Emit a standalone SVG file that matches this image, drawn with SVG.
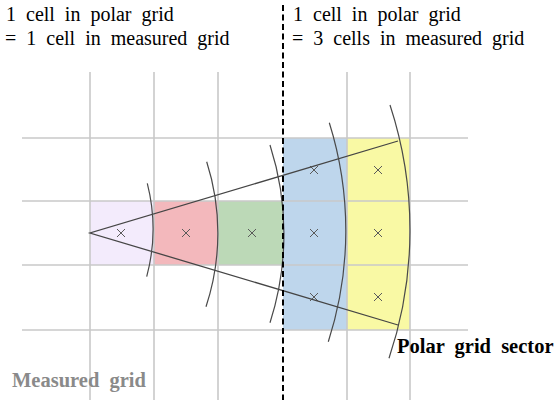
<svg xmlns="http://www.w3.org/2000/svg" width="556" height="405" viewBox="0 0 556 405">
<style>
.grid{stroke:#c9c9c9;stroke-width:1.6;fill:none}
.arc{stroke:#4a4a4a;stroke-width:1.2;fill:none}
.edge{stroke:#454545;stroke-width:1.3;fill:none}
.mk{stroke:#5a5a5a;stroke-width:1;fill:none}
.t{font-size:20px;word-spacing:5px;fill:#000}
.b{font-size:20.5px;font-weight:bold;word-spacing:5px}
</style>
<defs>
<path id="x" d="M-4,-4L4,4M-4,4L4,-4"/>
</defs>
<rect width="556" height="405" fill="#fff"/>
<g id="cells">
<rect x="90" y="201" width="64" height="64" fill="#f3ebfc"/>
<rect x="154" y="201" width="64" height="64" fill="#f3b8bc"/>
<rect x="218" y="201" width="65" height="64" fill="#bcd9b7"/>
<rect x="283" y="138" width="64" height="192" fill="#bed6ec"/>
<rect x="347" y="138" width="63" height="192" fill="#f9f9a4"/>
</g>
<g id="measured-grid" class="grid">
<path d="M22,138H468M22,201H468M22,265H468M22,330H468"/>
<path d="M90,72V400M154,72V400M218,72V400M347,72V400M410,72V400"/>
</g>
<g id="markers" class="mk">
<use href="#x" x="121" y="233"/>
<use href="#x" x="186" y="233"/>
<use href="#x" x="252" y="233"/>
<use href="#x" x="314" y="170"/>
<use href="#x" x="314" y="233"/>
<use href="#x" x="314" y="297"/>
<use href="#x" x="378" y="170"/>
<use href="#x" x="378" y="233"/>
<use href="#x" x="378" y="297"/>
</g>
<g id="polar-sector">
<path class="edge" d="M398,141L90,233L398,325"/>
<path class="arc" d="M147.3,183.3A185,185 0 0 1 146.7,276.7"/>
<path class="arc" d="M206.7,161.7A234,234 0 0 1 206,306.7"/>
<path class="arc" d="M270,145A290,290 0 0 1 270,322.7"/>
<path class="arc" d="M329.3,122.7A361,361 0 0 1 328.3,341.7"/>
<path class="arc" d="M390,105A402,402 0 0 1 389,358.3"/>
</g>
<g id="divider">
<path d="M283,5V400" stroke="#000" stroke-width="2" stroke-dasharray="6 3.5" fill="none"/>
</g>
<g id="labels" font-family="'Liberation Serif', 'DejaVu Serif', serif">
<text class="t" x="6" y="21">1 cell in polar grid</text>
<text class="t" x="5" y="44.5">= 1 cell in measured grid</text>
<text class="t" x="293" y="21">1 cell in polar grid</text>
<text class="t" x="292" y="44.5">= 3 cells in measured grid</text>
<text class="b" x="397" y="353" fill="#000">Polar grid sector</text>
<text class="b" x="12" y="387" fill="#8a8a8a">Measured grid</text>
</g>
</svg>
